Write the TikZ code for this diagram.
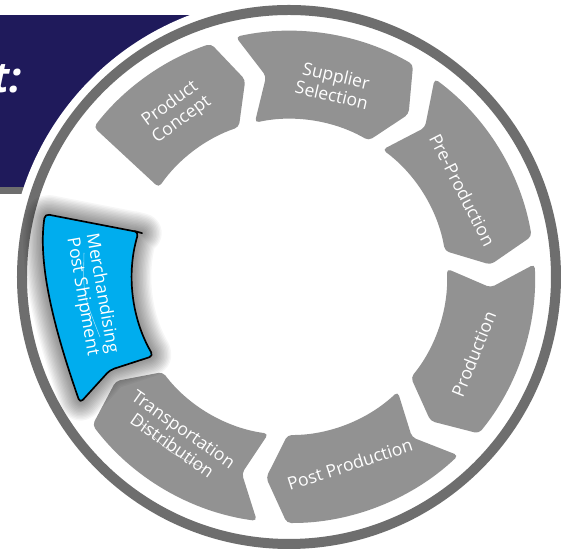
\documentclass[tikz,border=0pt]{standalone}
\usepackage{fontspec}
\setmainfont{Open Sans}
\usetikzlibrary{positioning}
\definecolor{navy}{HTML}{1F1A5B}
\definecolor{ringgray}{HTML}{6E6E6E}
\definecolor{seggray}{HTML}{929292}
\definecolor{cyanblue}{HTML}{00ADEE}

% ring segment: notch at the start angle, point at the end angle
\newcommand{\ringseg}[2]{(#1:246) arc[start angle=#1, end angle=#2, radius=246]
  -- ({#2-6}:202) -- (#2:158) arc[start angle=#2, end angle=#1, radius=158]
  -- ({#1-6}:202) -- cycle}
% the highlighted (popped out) segment
\newcommand{\bluepath}{(-151,45) -- (-244,63) .. controls (-252,10) and (-232,-60) .. (-209,-126)
  -- (-179,-93) -- (210.2:157) arc[start angle=210.2, end angle=163.4, radius=157] -- cycle}

\begin{document}
\begin{tikzpicture}[scale=0.025,
  seg/.style={fill=seggray, rounded corners=3pt},
  seglabel/.style={text=white, font=\fontsize{12.5}{14}\selectfont, align=center, inner sep=0pt},
  rule/.style={white, opacity=0.6, line width=0.4pt}]
  \useasboundingbox (-289,-276) rectangle (283,277);
  % title banner behind the wheel
  \fill[navy] (-289,90) rectangle (0,262);
  \fill[ringgray] (-289,83) rectangle (0,90);
  \node[anchor=base east, text=white, font=\fontsize{30}{31}\selectfont\bfseries\itshape] (title) at (-262,184) {t:};
  % wheel
  \fill[white] (0,0) circle[radius=280];
  \fill[ringgray, even odd rule] (0,0) circle[radius=272] (0,0) circle[radius=262];
  % segments
  \fill[seg] (142.5:246) arc[start angle=142.5, end angle=108.5, radius=246]
    -- (102.5:202) -- (108.5:158) arc[start angle=108.5, end angle=145.5, radius=158] -- cycle;
  \fill[seg] \ringseg{102.5}{59.7};
  \fill[seg] \ringseg{53.7}{9.5};
  \fill[seg] \ringseg{3}{-39.5};
  \fill[seg] \ringseg{-46.5}{-90.5};
  \fill[seg] \ringseg{-97.5}{-143};
  % highlighted segment, soft glow first
  \foreach \w in {28,26,...,4}
    \draw[line width=\w pt, black, opacity=0.035, rounded corners=3pt, line join=round] \bluepath;
  \draw[fill=cyanblue, line width=1.2pt, rounded corners=3pt, line join=round] \bluepath;
  % labels
  \node[seglabel, rotate=36] (concept) at (124.4:200) {Product\\Concept};
  \node[seglabel, rotate=-13] (supplier) at (76.8:197) {Supplier\\Selection};
  \node[seglabel, rotate=-63] (preprod) at (26.6:194) {Pre-Production};
  \node[seglabel, rotate=68] (prod) at (-22.6:200) {Production};
  \node[seglabel, rotate=18] (postprod) at (-72:197) {Post Production};
  \node[seglabel, rotate=-35] (transport) at (235.3:195) {Transportation\\Distribution};
  \node[seglabel, rotate=-80] (merch) at (-197,-18) {Merchandising\\Post Shipment};
  \draw[rule] (-205,24) .. controls (-206,-17) .. (-189,-60);
  \draw[rule] (-152,-141) .. controls (-122,-175) .. (-83,-192);
\end{tikzpicture}
\end{document}
